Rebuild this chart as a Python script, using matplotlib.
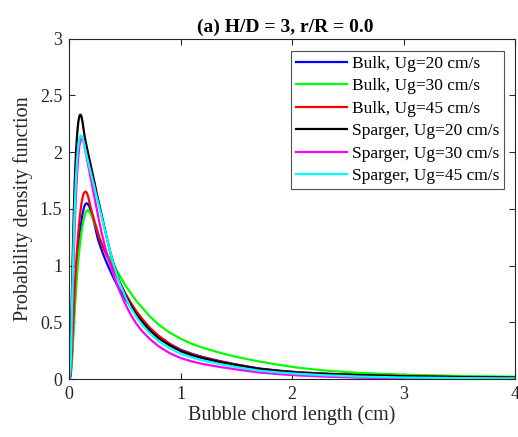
#!/usr/bin/env python3

import matplotlib
matplotlib.use('Agg')

import matplotlib.pyplot as plt

# -----------------------------
# Data
# -----------------------------
x_blue = [0, 0.01, 0.02, 0.03, 0.04, 0.05, 0.06, 0.07, 0.08, 0.09, 0.10, 0.11, 0.12, 0.13, 0.14, 0.15,
          0.156, 0.165, 0.18, 0.20, 0.22, 0.255, 0.28, 0.31, 0.35, 0.40, 0.45, 0.50, 0.55, 0.60, 0.65,
          0.72, 0.80, 0.90, 1.00, 1.10, 1.20, 1.35, 1.50, 1.70, 1.90, 2.05, 2.30, 2.60, 3.00, 3.50, 4.00]
y_blue = [0, 0.02, 0.13, 0.32, 0.52, 0.71, 0.88, 1.02, 1.14, 1.24, 1.33, 1.40, 1.46, 1.505, 1.535, 1.547,
          1.549, 1.545, 1.52, 1.46, 1.39, 1.24, 1.165, 1.085, 0.99, 0.885, 0.79, 0.71, 0.64, 0.575, 0.52,
          0.45, 0.38, 0.31, 0.258, 0.222, 0.193, 0.158, 0.128, 0.093, 0.072, 0.06, 0.047, 0.036, 0.027,
          0.019, 0.013]

x_green = [0, 0.01, 0.02, 0.03, 0.04, 0.05, 0.06, 0.07, 0.08, 0.09, 0.10, 0.11, 0.12, 0.13, 0.14, 0.15,
           0.165, 0.18, 0.20, 0.22, 0.246, 0.27, 0.30, 0.33, 0.365, 0.40, 0.50, 0.60, 0.72, 0.80, 0.90,
           1.00, 1.10, 1.20, 1.35, 1.50, 1.70, 1.90, 2.05, 2.30, 2.60, 3.00, 3.50, 4.00]
y_green = [0, 0.015, 0.10, 0.26, 0.44, 0.62, 0.78, 0.92, 1.04, 1.14, 1.22, 1.30, 1.36, 1.41, 1.45, 1.475,
           1.49, 1.475, 1.44, 1.39, 1.32, 1.25, 1.18, 1.12, 1.06, 1.00, 0.83, 0.69, 0.555, 0.48, 0.41,
           0.355, 0.31, 0.275, 0.232, 0.195, 0.155, 0.122, 0.1, 0.074, 0.054, 0.038, 0.027, 0.02]

x_red = [0, 0.01, 0.02, 0.03, 0.04, 0.05, 0.06, 0.07, 0.08, 0.09, 0.10, 0.11, 0.12, 0.13, 0.14, 0.144,
         0.15, 0.16, 0.17, 0.186, 0.20, 0.22, 0.25, 0.27, 0.30, 0.33, 0.36, 0.40, 0.45, 0.50, 0.55, 0.60,
         0.65, 0.72, 0.80, 0.90, 1.00, 1.10, 1.20, 1.35, 1.50, 1.70, 1.90, 2.05, 2.30, 2.60, 3.00, 3.50,
         4.00]
y_red = [0, 0.03, 0.18, 0.40, 0.62, 0.82, 1.00, 1.15, 1.28, 1.39, 1.48, 1.555, 1.605, 1.637, 1.65, 1.652,
         1.65, 1.635, 1.605, 1.535, 1.48, 1.41, 1.31, 1.24, 1.17, 1.10, 1.04, 0.96, 0.855, 0.76, 0.675, 0.60,
         0.535, 0.455, 0.38, 0.31, 0.252, 0.217, 0.188, 0.155, 0.125, 0.091, 0.07, 0.058, 0.046, 0.035, 0.026,
         0.018, 0.013]

x_black = [0, 0.005, 0.01, 0.015, 0.02, 0.025, 0.03, 0.035, 0.04, 0.045, 0.05, 0.055, 0.06, 0.065, 0.07,
           0.075, 0.08, 0.085, 0.09, 0.095, 0.10, 0.105, 0.11, 0.12, 0.13, 0.14, 0.16, 0.18, 0.20, 0.22,
           0.25, 0.28, 0.31, 0.34, 0.37, 0.40, 0.45, 0.50, 0.55, 0.60, 0.65, 0.72, 0.80, 0.90, 1.00, 1.10,
           1.20, 1.35, 1.50, 1.70, 1.90, 2.05, 2.30, 2.60, 3.00, 3.50, 4.00]
y_black = [0, 0.01, 0.15, 0.35, 0.60, 0.83, 1.05, 1.26, 1.45, 1.62, 1.77, 1.89, 1.99, 2.08, 2.15,
           2.21, 2.26, 2.29, 2.315, 2.328, 2.33, 2.325, 2.31, 2.26, 2.19, 2.125, 2.03, 1.94, 1.85, 1.76,
           1.62, 1.49, 1.36, 1.23, 1.11, 1.01, 0.86, 0.74, 0.65, 0.57, 0.51, 0.432, 0.36, 0.297, 0.245, 0.21,
           0.182, 0.15, 0.122, 0.09, 0.068, 0.056, 0.044, 0.034, 0.025, 0.017, 0.012]

x_magenta = [0, 0.01, 0.015, 0.02, 0.025, 0.03, 0.035, 0.04, 0.045, 0.05, 0.055, 0.06, 0.065, 0.07, 0.075,
             0.08, 0.085, 0.09, 0.095, 0.10, 0.105, 0.111, 0.117, 0.125, 0.135, 0.15, 0.17, 0.20, 0.23,
             0.26, 0.29, 0.32, 0.35, 0.37, 0.40, 0.45, 0.50, 0.55, 0.60, 0.65, 0.72, 0.80, 0.90, 1.00,
             1.10, 1.20, 1.35, 1.50, 1.70, 1.90, 2.05, 2.30, 2.60, 3.00, 3.50, 4.00]
y_magenta = [0, 0.06, 0.18, 0.35, 0.54, 0.73, 0.91, 1.08, 1.24, 1.38, 1.51, 1.62, 1.72, 1.81, 1.88,
             1.95, 2.00, 2.05, 2.08, 2.105, 2.117, 2.12, 2.115, 2.095, 2.055, 1.98, 1.88, 1.73, 1.58,
             1.43, 1.29, 1.17, 1.06, 1.00, 0.91, 0.78, 0.665, 0.57, 0.49, 0.425, 0.355, 0.29, 0.228, 0.185,
             0.155, 0.132, 0.106, 0.084, 0.058, 0.041, 0.032, 0.021, 0.012, 0.005, 0.003, 0.002]

x_cyan = [0, 0.01, 0.015, 0.02, 0.025, 0.03, 0.035, 0.04, 0.045, 0.05, 0.055, 0.06, 0.065, 0.07, 0.075,
          0.08, 0.085, 0.09, 0.095, 0.10, 0.105, 0.11, 0.12, 0.13, 0.14, 0.16, 0.18, 0.20, 0.22, 0.25,
          0.28, 0.31, 0.34, 0.37, 0.40, 0.45, 0.50, 0.55, 0.60, 0.65, 0.72, 0.80, 0.90, 1.00, 1.10, 1.20,
          1.35, 1.50, 1.70, 1.90, 2.05, 2.30, 2.60, 3.00, 3.50, 4.00]
y_cyan = [0, 0.09, 0.25, 0.45, 0.66, 0.87, 1.06, 1.24, 1.40, 1.54, 1.66, 1.77, 1.86, 1.94, 2.00,
          2.05, 2.09, 2.12, 2.137, 2.145, 2.146, 2.143, 2.12, 2.085, 2.04, 1.95, 1.87, 1.79, 1.71, 1.59,
          1.47, 1.35, 1.23, 1.11, 1.00, 0.85, 0.73, 0.63, 0.55, 0.48, 0.403, 0.335, 0.272, 0.222, 0.19,
          0.163, 0.132, 0.105, 0.074, 0.056, 0.046, 0.033, 0.022, 0.013, 0.008, 0.005]

series = [
    ('Bulk, Ug=20 cm/s', x_blue, y_blue, '#0000ff'),
    ('Bulk, Ug=30 cm/s', x_green, y_green, '#00ff00'),
    ('Bulk, Ug=45 cm/s', x_red, y_red, '#ff0000'),
    ('Sparger, Ug=20 cm/s', x_black, y_black, '#000000'),
    ('Sparger, Ug=30 cm/s', x_magenta, y_magenta, '#ff00ff'),
    ('Sparger, Ug=45 cm/s', x_cyan, y_cyan, '#00ffff'),
]

x_ticks = [0, 1, 2, 3, 4]
y_ticks = [0, 0.5, 1, 1.5, 2, 2.5, 3]
y_ticklabels = ['0', '0.5', '1', '1.5', '2', '2.5', '3']

# -----------------------------
# Figure
# -----------------------------
plt.rcParams['font.family'] = ['Liberation Serif', 'DejaVu Serif']

W, H = 518, 437
fig = plt.figure(figsize=(W / 100, H / 100), dpi=100)
ax = fig.add_axes([69.3 / W, 1 - 379 / H, (515 - 69.3) / W, (379 - 38.7) / H])

for label, xs, ys, col in series:
    ax.plot(xs, ys, color=col, linewidth=1.6, label=label)

ax.set_xlim(0, 4)
ax.set_ylim(0, 3)
ax.set_xticks(x_ticks)
ax.set_xticklabels([str(t) for t in x_ticks])
ax.set_yticks(y_ticks)
ax.set_yticklabels(y_ticklabels)
ax.tick_params(direction='in', top=True, right=True, length=4, width=0.8,
               labelsize=13, colors='#262626', pad=5)
for sp in ax.spines.values():
    sp.set_linewidth(0.8)
    sp.set_color('#262626')

ax.set_xlabel('Bubble chord length (cm)', fontsize=14.5, color='#262626', labelpad=2)
ax.set_ylabel('Probability density function', fontsize=14.5, color='#262626', labelpad=5)
fig.text(285 / W, 1 - 27 / H, '(a) H/D = 3, r/R = 0.0', fontsize=14, fontweight='bold',
         ha='center', va='center')

leg = ax.legend(loc='upper left', bbox_to_anchor=(291 / W, 1 - 50.7 / H), bbox_transform=fig.transFigure,
                borderaxespad=0, fontsize=12.5, frameon=True, fancybox=False, handlelength=2.9,
                handletextpad=0.3, labelspacing=0.36, borderpad=0.3)
leg.get_frame().set_edgecolor('#262626')
leg.get_frame().set_linewidth(0.8)

fig.savefig('out.png', dpi=100)
